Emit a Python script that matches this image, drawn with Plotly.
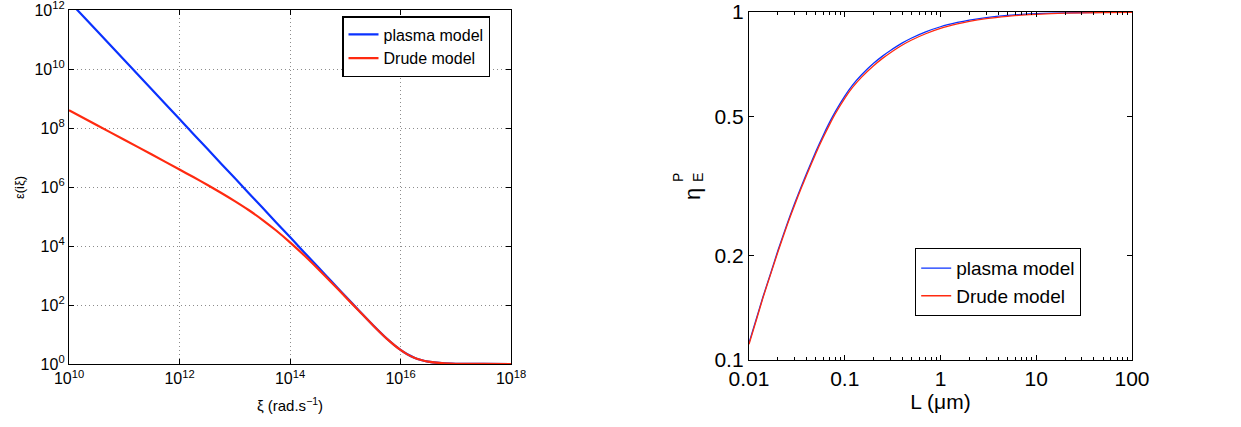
import plotly.graph_objects as go

# ---- left panel: dielectric function on the imaginary axis ----
xi = [1e10, 3.16e10, 1e11, 3.16e11, 1e12, 1.78e12, 3.16e12, 5.62e12, 1e13, 1.78e13,
      3.16e13, 5.62e13, 1e14, 1.78e14, 3.16e14, 5.62e14, 1e15, 1.78e15, 3.16e15,
      5.62e15, 1e16, 1.33e16, 1.78e16, 2.37e16, 3.16e16, 5.62e16, 1e17, 3.16e17, 1e18]
eps_plasma = [2.0e12, 2.0e11, 2.0e10, 2.0e9, 2.0e8, 6.3e7, 2.0e7, 6.3e6, 2.0e6, 6.3e5,
              2.0e5, 6.3e4, 2.0e4, 6.3e3, 2.0e3, 634, 201, 64.2, 21.0,
              7.32, 3.0, 2.13, 1.63, 1.36, 1.20, 1.063, 1.02, 1.002, 1.0002]
eps_drude = [4.0e8, 1.26e8, 4.0e7, 1.26e7, 3.9e6, 2.17e6, 1.19e6, 6.4e5, 3.33e5, 1.66e5,
             7.75e4, 3.35e4, 1.33e4, 4.94e3, 1.73e3, 583, 191, 62.5, 20.7,
             7.27, 2.99, 2.12, 1.63, 1.36, 1.20, 1.063, 1.02, 1.002, 1.0002]

# ---- right panel: energy reduction factor vs. separation ----
L_um = [0.01, 0.012, 0.014, 0.017, 0.02, 0.025, 0.03, 0.035, 0.04, 0.05, 0.06,
        0.07, 0.08, 0.1, 0.12, 0.15, 0.2, 0.25, 0.3, 0.4, 0.5, 0.7, 1, 1.5, 2,
        3, 5, 7, 10, 20, 50, 100]
eta_plasma = [0.112, 0.132, 0.152, 0.179, 0.206, 0.246, 0.282, 0.314, 0.344, 0.398,
              0.444, 0.484, 0.518, 0.573, 0.615, 0.660, 0.712, 0.748, 0.775, 0.815,
              0.842, 0.877, 0.907, 0.933, 0.948, 0.964, 0.978, 0.984, 0.989, 0.9945,
              0.9978, 0.9989]
eta_drude = [0.111, 0.131, 0.151, 0.178, 0.204, 0.244, 0.279, 0.311, 0.340, 0.393,
             0.438, 0.477, 0.511, 0.565, 0.606, 0.650, 0.701, 0.737, 0.764, 0.804,
             0.831, 0.866, 0.897, 0.924, 0.940, 0.957, 0.972, 0.979, 0.985, 0.992,
             0.9965, 0.998]

left_xticks = [1e10, 1e12, 1e14, 1e16, 1e18]
left_xtext = ["10<sup>10</sup>", "10<sup>12</sup>", "10<sup>14</sup>",
              "10<sup>16</sup>", "10<sup>18</sup>"]
left_yticks = [1e0, 1e2, 1e4, 1e6, 1e8, 1e10, 1e12]
left_ytext = ["10<sup>0</sup>", "10<sup>2</sup>", "10<sup>4</sup>", "10<sup>6</sup>",
              "10<sup>8</sup>", "10<sup>10</sup>", "10<sup>12</sup>"]
right_xticks = [0.01, 0.1, 1, 10, 100]
right_xtext = ["0.01", "0.1", "1", "10", "100"]
right_yticks = [0.1, 0.2, 0.5, 1]
right_ytext = ["0.1", "0.2", "0.5", "1"]

BLUE = "#0a32ff"
RED = "#ff2a10"
FONT = "Liberation Sans, Arial, Helvetica, sans-serif"
W, H = 1241, 427


def px(x):
    return x / W


def py(y):
    return 1 - y / H


fig = go.Figure()
fig.add_trace(go.Scatter(x=xi, y=eps_plasma, mode="lines", name="plasma model",
                         line=dict(color=BLUE, width=2.2, shape="spline", smoothing=0.6),
                         xaxis="x", yaxis="y", legend="legend"))
fig.add_trace(go.Scatter(x=xi, y=eps_drude, mode="lines", name="Drude model",
                         line=dict(color=RED, width=2.2, shape="spline", smoothing=0.6),
                         xaxis="x", yaxis="y", legend="legend"))
fig.add_trace(go.Scatter(x=L_um, y=eta_plasma, mode="lines", name="plasma model",
                         line=dict(color=BLUE, width=1.3, shape="spline", smoothing=0.6),
                         xaxis="x2", yaxis="y2", legend="legend2"))
fig.add_trace(go.Scatter(x=L_um, y=eta_drude, mode="lines", name="Drude model",
                         line=dict(color=RED, width=1.3, shape="spline", smoothing=0.6),
                         xaxis="x2", yaxis="y2", legend="legend2"))

common_axis = dict(showline=True, linecolor="black", linewidth=1.3, mirror="ticks",
                   ticks="inside", tickcolor="black", zeroline=False, automargin=False,
                   ticklabeloverflow="allow")

minor_x2 = [v * m for v in [0.01, 0.1, 1, 10] for m in range(2, 10)]
GRID = dict(showgrid=True, gridcolor="#8c8c8c", griddash="1px,3px", gridwidth=1)

fig.update_layout(
    width=W, height=H,
    margin=dict(l=0, r=0, t=0, b=0),
    paper_bgcolor="white", plot_bgcolor="white",
    font=dict(family=FONT, color="black"),
    showlegend=True,
    xaxis=dict(type="log", range=[10, 18], domain=[px(69), px(511)],
               tickvals=left_xticks, ticktext=left_xtext, ticklen=5,
               tickfont=dict(size=16),
               title=dict(text="ξ (rad.s<sup>−1</sup>)", font=dict(size=15), standoff=14),
               anchor="y", **GRID, **common_axis),
    yaxis=dict(type="log", range=[0, 12], domain=[py(364), py(10)],
               tickvals=left_yticks, ticktext=left_ytext, ticklen=5,
               tickfont=dict(size=16),
               anchor="x", **GRID, **common_axis),
    xaxis2=dict(type="log", range=[-2, 2], domain=[px(749), px(1132)],
                tickvals=right_xticks, ticktext=right_xtext, ticklen=5,
                tickfont=dict(size=21), showgrid=False,
                minor=dict(tickvals=minor_x2, ticks="inside", ticklen=3,
                           tickcolor="black", showgrid=False),
                title=dict(text="L (μm)", font=dict(size=21), standoff=4),
                anchor="y2", **common_axis),
    yaxis2=dict(type="log", range=[-1, 0], domain=[py(360), py(12)],
                tickvals=right_yticks, ticktext=right_ytext, ticklen=5,
                tickfont=dict(size=21), showgrid=False,
                anchor="x2", **common_axis),
    legend=dict(x=px(342), y=py(16), xanchor="left", yanchor="top",
                bgcolor="white", bordercolor="black", borderwidth=1.5,
                font=dict(size=16), tracegroupgap=0),
    legend2=dict(x=px(915), y=py(248), xanchor="left", yanchor="top",
                 bgcolor="white", bordercolor="black", borderwidth=1.2,
                 font=dict(size=19), tracegroupgap=0),
)

annotations = [
    dict(text="ε(iξ)", x=px(19), y=py(188), textangle=-90, font=dict(size=13)),
    dict(text="η", x=px(692), y=py(194), textangle=-90, font=dict(size=22)),
    dict(text="P", x=px(678), y=py(178), textangle=-90, font=dict(size=14)),
    dict(text="E", x=px(698), y=py(178), textangle=-90, font=dict(size=14)),
]
for a in annotations:
    a.update(xref="paper", yref="paper", showarrow=False,
             xanchor="center", yanchor="middle")
fig.update_layout(annotations=annotations)

fig.write_html("out.html")
